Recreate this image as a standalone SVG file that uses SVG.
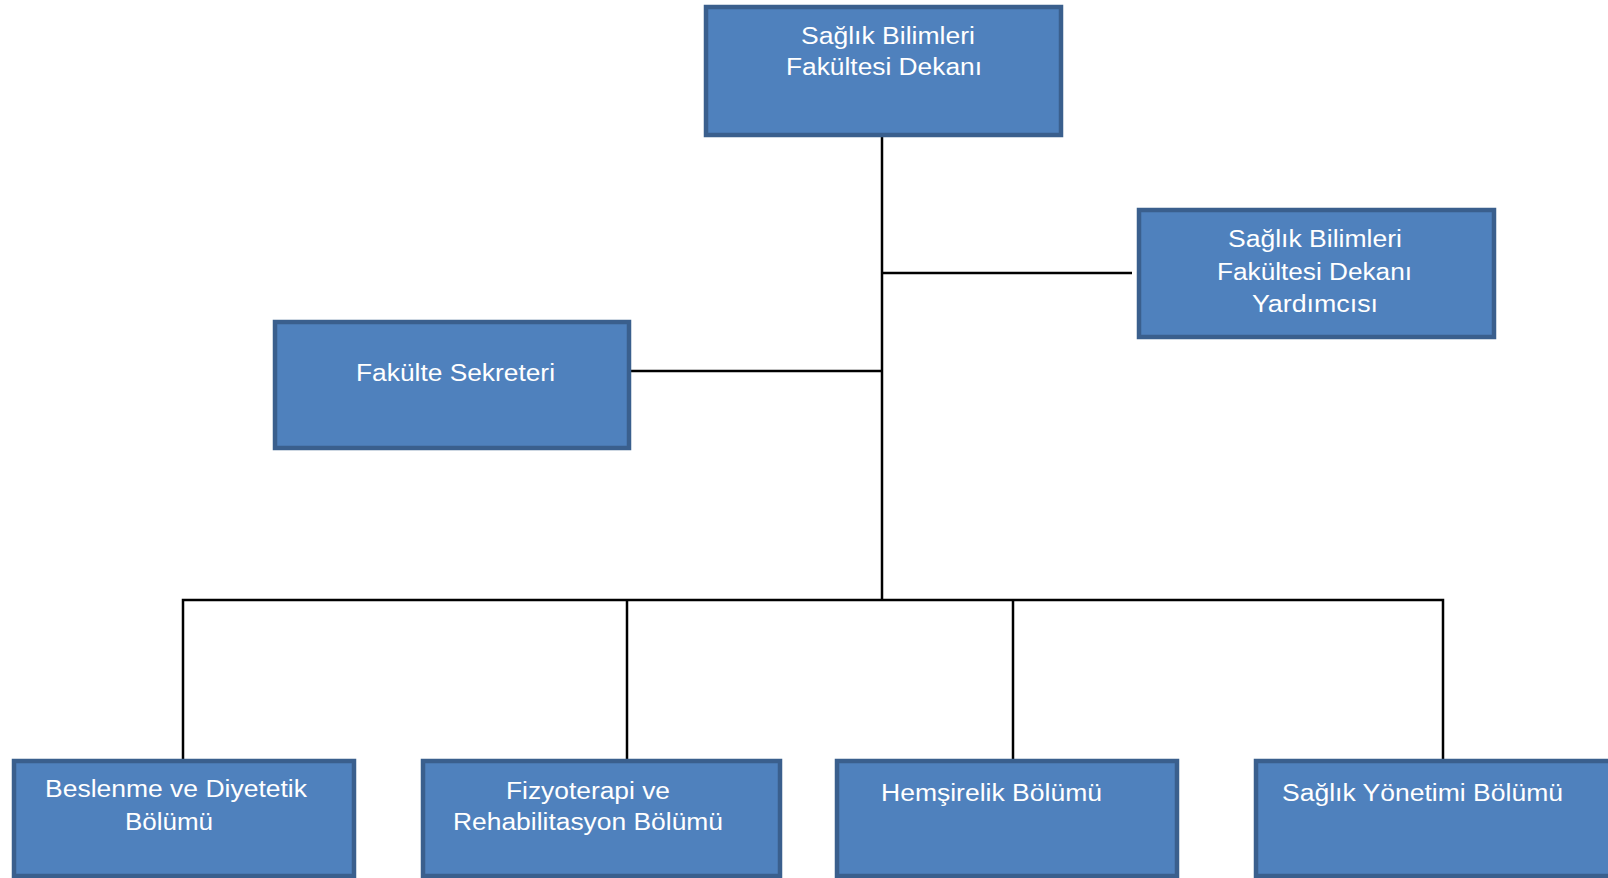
<svg xmlns="http://www.w3.org/2000/svg" width="1608" height="878" viewBox="0 0 1608 878">
<style>
.box{fill:#4F81BD;stroke:#3A5F8D;stroke-width:4.5}
.t{font-family:"Liberation Sans",Arial,sans-serif;font-size:23px;fill:#FFFFFF}
.c{stroke:#000;stroke-width:2.5;fill:none}
</style>
<rect width="1608" height="878" fill="#FFFFFF"/>
<g id="connectors">
<line class="c" x1="882" y1="137" x2="882" y2="601"/>
<line class="c" x1="882" y1="273" x2="1132" y2="273"/>
<line class="c" x1="630" y1="371" x2="882" y2="371"/>
<polyline class="c" points="183,759 183,600 1443,600 1443,759"/>
<line class="c" x1="627" y1="600" x2="627" y2="759"/>
<line class="c" x1="1013" y1="600" x2="1013" y2="759"/>
</g>
<g id="dekan">
<rect class="box" x="706" y="7" width="355" height="128"/>
<text class="t" x="801" y="44" textLength="174" lengthAdjust="spacingAndGlyphs">Sağlık Bilimleri</text>
<text class="t" x="786" y="75" textLength="196" lengthAdjust="spacingAndGlyphs">Fakültesi Dekanı</text>
</g>
<g id="dekan-yardimcisi">
<rect class="box" x="1139" y="210" width="355" height="127"/>
<text class="t" x="1228" y="247" textLength="174" lengthAdjust="spacingAndGlyphs">Sağlık Bilimleri</text>
<text class="t" x="1217" y="280" textLength="195" lengthAdjust="spacingAndGlyphs">Fakültesi Dekanı</text>
<text class="t" x="1252" y="312" textLength="126" lengthAdjust="spacingAndGlyphs">Yardımcısı</text>
</g>
<g id="fakulte-sekreteri">
<rect class="box" x="275" y="322" width="354" height="126"/>
<text class="t" x="356" y="381" textLength="199" lengthAdjust="spacingAndGlyphs">Fakülte Sekreteri</text>
</g>
<g id="beslenme">
<rect class="box" x="14" y="761" width="340" height="115"/>
<text class="t" x="45" y="797" textLength="262" lengthAdjust="spacingAndGlyphs">Beslenme ve Diyetetik</text>
<text class="t" x="125" y="830" textLength="88" lengthAdjust="spacingAndGlyphs">Bölümü</text>
</g>
<g id="fizyoterapi">
<rect class="box" x="423" y="761" width="357" height="115"/>
<text class="t" x="506" y="799" textLength="164" lengthAdjust="spacingAndGlyphs">Fizyoterapi ve</text>
<text class="t" x="453" y="830" textLength="270" lengthAdjust="spacingAndGlyphs">Rehabilitasyon Bölümü</text>
</g>
<g id="hemsirelik">
<rect class="box" x="837" y="761" width="340" height="115"/>
<text class="t" x="881" y="801" textLength="221" lengthAdjust="spacingAndGlyphs">Hemşirelik Bölümü</text>
</g>
<g id="saglik-yonetimi">
<rect class="box" x="1256" y="761" width="400" height="115"/>
<text class="t" x="1282" y="801" textLength="281" lengthAdjust="spacingAndGlyphs">Sağlık Yönetimi Bölümü</text>
</g>
</svg>
